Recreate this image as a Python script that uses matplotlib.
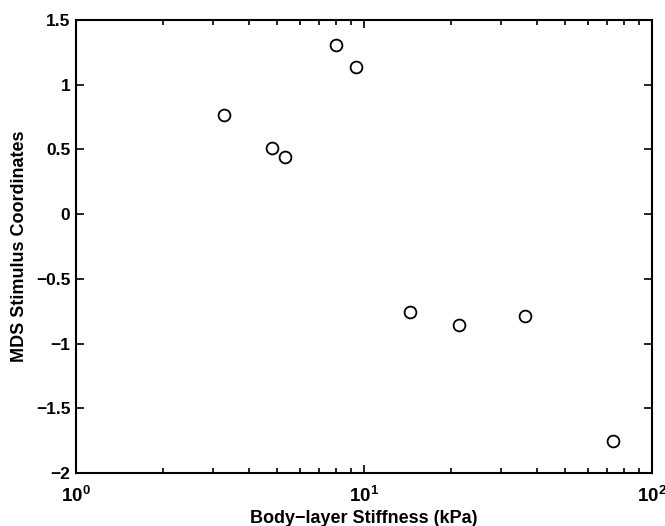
import matplotlib
matplotlib.use('Agg')
import matplotlib.pyplot as plt
from matplotlib.ticker import FixedLocator, FixedFormatter, LogLocator, NullFormatter

plt.rcParams['font.family'] = 'Liberation Sans'
plt.rcParams['font.weight'] = 'bold'
plt.rcParams['mathtext.fontset'] = 'custom'
plt.rcParams['mathtext.rm'] = 'Liberation Sans:bold'
plt.rcParams['mathtext.it'] = 'Liberation Sans:bold'
plt.rcParams['mathtext.bf'] = 'Liberation Sans:bold'
plt.rcParams['axes.unicode_minus'] = True

# body-layer stiffness (kPa) vs MDS stimulus coordinate
stiffness = [3.26, 4.78, 5.33, 8.0, 9.38, 14.4, 21.4, 36.1, 73.0]
mds_coord = [0.765, 0.51, 0.445, 1.305, 1.137, -0.755, -0.854, -0.789, -1.753]

xticks = [1, 10, 100]
xticklabels = [r'$10^{0}$', r'$10^{1}$', r'$10^{2}$']
yticks = [-2, -1.5, -1, -0.5, 0, 0.5, 1, 1.5]
yticklabels = ['\u22122', '\u22121.5', '\u22121', '\u22120.5', '0', '0.5', '1', '1.5']

fig = plt.figure(figsize=(6.65, 5.26), dpi=100)
ax = fig.add_axes([0.1143, 0.1008, 0.8662, 0.8612])

ax.plot(stiffness, mds_coord, 'o', mfc='none', mec='black', ms=8.5, mew=1.3)

ax.set_xscale('log')
ax.set_xlim(1, 100)
ax.set_ylim(-2, 1.5)
ax.xaxis.set_major_locator(FixedLocator(xticks))
ax.xaxis.set_major_formatter(FixedFormatter(xticklabels))
ax.xaxis.set_minor_locator(LogLocator(base=10, subs=range(2, 10)))
ax.xaxis.set_minor_formatter(NullFormatter())
ax.set_yticks(yticks)
ax.set_yticklabels(yticklabels)

ax.tick_params(which='both', direction='in', top=True, right=True, width=1.2)
ax.tick_params(which='major', length=6, labelsize=12.5)
ax.tick_params(which='minor', length=3.5)
ax.tick_params(axis='x', which='major', pad=9, labelsize=13.5)
ax.tick_params(axis='y', which='major', pad=4)
for s in ax.spines.values():
    s.set_linewidth(1.5)

ax.set_xlabel('Body\u2212layer Stiffness (kPa)', fontsize=13, fontweight='bold', labelpad=3)
ax.set_ylabel('MDS Stimulus Coordinates', fontsize=13, fontweight='bold', labelpad=6)

fig.savefig('out.png', dpi=100)
